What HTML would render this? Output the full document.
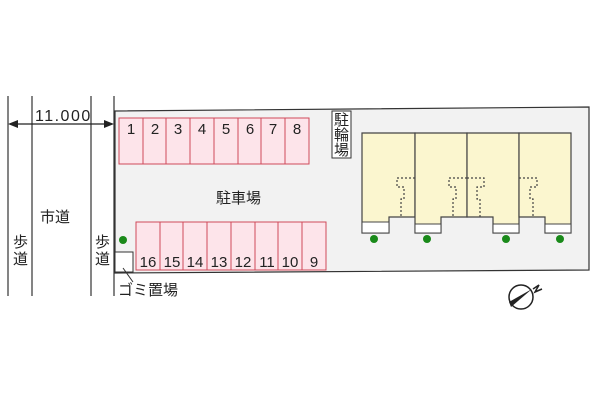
<!DOCTYPE html>
<html><head><meta charset="utf-8"><style>
body{margin:0;background:#fff;width:600px;height:400px;overflow:hidden}
svg text{font-family:"Liberation Sans","Noto Sans CJK JP",sans-serif;fill:#222}
</style></head><body>
<svg width="600" height="400" viewBox="0 0 600 400">
<g stroke="#333" stroke-width="1.2">
<line x1="8" y1="96" x2="8" y2="296"/>
<line x1="32" y1="96" x2="32" y2="296"/>
<line x1="91" y1="96" x2="91" y2="296"/>
<line x1="114" y1="96" x2="114" y2="296"/>
</g>
<line x1="10" y1="124" x2="112" y2="124" stroke="#222" stroke-width="1.2"/>
<polygon points="8,124 18,120 18,128" fill="#222"/>
<polygon points="114,124 104,120 104,128" fill="#222"/>
<text x="35" y="121" font-size="16" letter-spacing="1.5">11.000</text>
<polygon points="115,111 589,107 589,270 115,273" fill="#f2f2f2" stroke="#333" stroke-width="1.2"/>
<g fill="#fde4ea" stroke="#d04a5a" stroke-width="1">
<rect x="119" y="118" width="190" height="46"/>
<rect x="136" y="222" width="190" height="48"/>
</g>
<g stroke="#d04a5a" stroke-width="1">
<line x1="143" y1="118" x2="143" y2="164"/><line x1="166" y1="118" x2="166" y2="164"/><line x1="190" y1="118" x2="190" y2="164"/><line x1="214" y1="118" x2="214" y2="164"/><line x1="238" y1="118" x2="238" y2="164"/><line x1="261" y1="118" x2="261" y2="164"/><line x1="285" y1="118" x2="285" y2="164"/>
<line x1="160" y1="222" x2="160" y2="270"/><line x1="183" y1="222" x2="183" y2="270"/><line x1="207" y1="222" x2="207" y2="270"/><line x1="231" y1="222" x2="231" y2="270"/><line x1="255" y1="222" x2="255" y2="270"/><line x1="278" y1="222" x2="278" y2="270"/><line x1="302" y1="222" x2="302" y2="270"/>
</g>
<g font-size="15" text-anchor="middle">
<text x="131" y="134">1</text><text x="155" y="134">2</text><text x="178" y="134">3</text><text x="202" y="134">4</text><text x="226" y="134">5</text><text x="250" y="134">6</text><text x="273" y="134">7</text><text x="297" y="134">8</text>
<text x="148" y="267">16</text><text x="172" y="267">15</text><text x="195" y="267">14</text><text x="219" y="267">13</text><text x="243" y="267">12</text><text x="267" y="267">11</text><text x="290" y="267">10</text><text x="314" y="267">9</text>
</g>
<text x="216" y="203" font-size="15">駐車場</text>
<text x="40" y="222" font-size="15">市道</text>
<text x="13" y="247" font-size="15">歩</text><text x="13" y="264" font-size="15">道</text>
<text x="95" y="247" font-size="15">歩</text><text x="95" y="264" font-size="15">道</text>
<rect x="115" y="252" width="18" height="20" fill="#fff" stroke="#333"/>
<line x1="123" y1="268" x2="133" y2="282" stroke="#333"/>
<text x="118" y="295" font-size="15">ゴミ置場</text>
<circle cx="123" cy="240" r="4" fill="#1a8a1a"/>
<rect x="332" y="111" width="19" height="47" fill="#fff" stroke="#333"/>
<g font-size="15"><text x="334" y="125">駐</text><text x="334" y="140">輪</text><text x="334" y="155">場</text></g>
<g fill="#fbf6cf" stroke="#444" stroke-width="1.2">
<polygon points="362,133 415,133 415,217 389,217 389,233 362,233"/>
<polygon points="415,133 467,133 467,217 441,217 441,233 415,233"/>
<polygon points="467,133 519,133 519,233 493,233 493,217 467,217"/>
<polygon points="519,133 571,133 571,233 545,233 545,217 519,217"/>
</g>
<g fill="#fff" stroke="#444">
<rect x="362" y="222" width="27" height="11"/><rect x="415" y="224" width="26" height="9"/><rect x="493" y="224" width="26" height="9"/><rect x="545" y="224" width="26" height="9"/>
</g>
<g fill="none" stroke="#444" stroke-dasharray="2,2" stroke-width="1.2">
<path d="M415,178 H397 V187 H404 V199 H401 V217"/>
<path d="M467,178 H449 V187 H456 V199 H453 V217"/>
<path d="M467,178 H484 V187 H477 V199 H480 V217"/>
<path d="M519,178 H537 V187 H530 V199 H533 V217"/>
</g>
<g fill="#1a8a1a"><circle cx="374" cy="239" r="4"/><circle cx="427" cy="239" r="4"/><circle cx="506" cy="239" r="4"/><circle cx="560" cy="239" r="4"/></g>
<circle cx="521" cy="297" r="12" fill="#fff" stroke="#222" stroke-width="1.5"/>
<polygon points="509,302 532,289 511,307" fill="#222"/>
<path d="M533,289 L539,285 L535,292 L542,289" fill="none" stroke="#222" stroke-width="1.5"/>
</svg>
</body></html>
